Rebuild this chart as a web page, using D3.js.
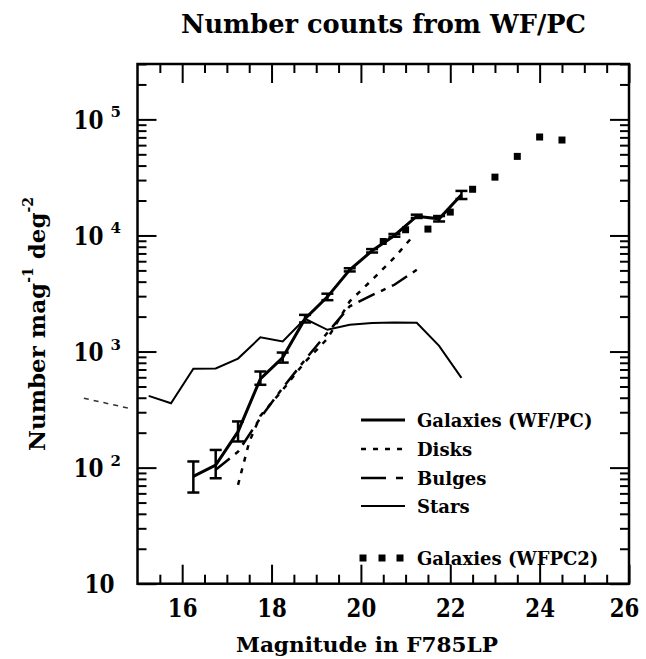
<!DOCTYPE html>
<html>
<head>
<meta charset="utf-8">
<script src="https://cdn.jsdelivr.net/npm/d3@7"></script>
<style>
  body { margin: 0; background: #fff; }
  text { font-family: "DejaVu Serif", serif; font-weight: bold; fill: #000; }
</style>
</head>
<body>
<div id="myPlot"></div>
<script>
//----------------------------------------------------------------------------------------------------
// data (magnitude, number per mag per sq. degree)
var galMag = [16.25, 16.75, 17.25, 17.75, 18.25, 18.75, 19.25, 19.75, 20.25, 20.75, 21.25, 21.75, 22.25];
var galN   = [84, 105, 204, 582, 887, 1920, 2960, 5060, 7380, 10000, 14650, 13900, 22400];
var galLo  = [61, 81, 168, 517, 803, 1780, 2770, 4900, 7130, 9750, 14150, 13200, 20600];
var galHi  = [113, 142, 250, 673, 980, 2070, 3150, 5220, 7630, 10300, 15100, 14700, 24200];

var diskMag = [17.25, 17.5, 17.75, 18.25, 18.75, 19.25, 19.75, 20.25, 20.75, 21.2];
var diskN   = [71, 166, 279, 468, 815, 1290, 2710, 4150, 6460, 10200];

var bulgeMag = [16.75, 17.25, 17.75, 18.25, 18.75, 19.25, 19.75, 20.25, 20.75, 21.25];
var bulgeN   = [96, 137, 268, 487, 849, 1450, 2455, 3060, 3760, 5060];

var starMag = [15.25, 15.75, 16.25, 16.75, 17.25, 17.75, 18.25, 18.75, 19.25, 19.75, 20.25, 20.75, 21.25, 21.75, 22.25];
var starN   = [415, 359, 710, 716, 870, 1325, 1220, 1915, 1540, 1700, 1760, 1780, 1770, 1120, 593];

// faint stretch of the star counts printed left of the frame
var starOutMag = [13.8, 14.8];
var starOutN   = [396, 325];

var wfpc2Mag = [20.5, 21, 21.5, 22, 22.5, 23, 23.5, 24, 24.5];
var wfpc2N   = [8870, 11200, 11350, 15900, 25000, 31800, 48000, 70500, 66400];

var xMajor = [16, 18, 20, 22, 24, 26];
var yMajor = [10, 100, 1000, 10000, 100000];
var yExp   = ["", "2", "3", "4", "5"];

//----------------------------------------------------------------------------------------------------
// set the dimensions and margins of the graph
var margin = { top: 64, right: 17, bottom: 75.3, left: 137.5 },
  width = 646 - margin.left - margin.right,
  height = 659 - margin.top - margin.bottom;

var root = d3.select("#myPlot")
  .append("svg")
  .attr("width", 646)
  .attr("height", 659);

var svg = root.append("g")
  .attr("transform", "translate(" + margin.left + "," + margin.top + ")");

var x = d3.scaleLinear().domain([15, 26]).range([0, width]);
var y = d3.scaleLog().domain([10, 3e5]).range([height, 0]);

// minor ticks
var xMinor = d3.range(15.5, 26, 0.5).filter(function (d) { return xMajor.indexOf(d) < 0; });
var yMinor = [];
yMajor.forEach(function (dec) {
  for (var k = 2; k <= 9; k++) if (k * dec <= 3e5) yMinor.push(k * dec);
});

//----------------------------------------------------------------------------------------------------
// axes, all ticks pointing inwards
function styleAxis(g) {
  g.select(".domain").remove();
  g.selectAll(".tick line").attr("stroke", "#000").attr("stroke-width", 2);
}

svg.append("g").attr("transform", "translate(0," + height + ")")
  .call(d3.axisBottom(x).tickValues(xMinor).tickSize(-9).tickFormat("")).call(styleAxis);
var xAx = svg.append("g").attr("transform", "translate(0," + height + ")")
  .call(d3.axisBottom(x).tickValues(xMajor).tickSize(-19).tickPadding(14).tickFormat(d3.format("d")))
  .call(styleAxis);
// narrow the digits a little to match the plotting font
xAx.selectAll("text")
  .attr("dy", null).attr("y", 0)
  .attr("font-family", "DejaVu Serif").attr("font-size", 26).attr("font-weight", "bold")
  .attr("transform", function (d) { return "translate(" + (d === 26 ? -5 : 0) + ",33.5) scale(0.82,1)"; });
svg.append("g")
  .call(d3.axisTop(x).tickValues(xMinor).tickSize(-9).tickFormat("")).call(styleAxis);
svg.append("g")
  .call(d3.axisTop(x).tickValues(xMajor).tickSize(-19).tickFormat("")).call(styleAxis);

svg.append("g")
  .call(d3.axisLeft(y).tickValues(yMinor).tickSize(-9).tickFormat("")).call(styleAxis);
svg.append("g")
  .call(d3.axisLeft(y).tickValues(yMajor).tickSize(-19).tickFormat("")).call(styleAxis);
svg.append("g").attr("transform", "translate(" + width + ",0)")
  .call(d3.axisRight(y).tickValues(yMinor).tickSize(-9).tickFormat("")).call(styleAxis);
svg.append("g").attr("transform", "translate(" + width + ",0)")
  .call(d3.axisRight(y).tickValues(yMajor).tickSize(-19).tickFormat("")).call(styleAxis);

// y labels "10" with exponents
yMajor.forEach(function (v, i) {
  var right = yExp[i] ? -34 : -23;
  svg.append("text")
    .attr("x", right - 30).attr("y", y(v) + 9.5)
    .attr("textLength", 30).attr("lengthAdjust", "spacingAndGlyphs")
    .style("font-size", "26px")
    .text("10");
  if (yExp[i]) {
    svg.append("text")
      .attr("x", -27).attr("y", y(v) - 2)
      .style("font-size", "15px")
      .text(yExp[i]);
  }
});

// frame
svg.append("rect")
  .attr("width", width).attr("height", height)
  .attr("fill", "none").attr("stroke", "#000").attr("stroke-width", 2.5);

//----------------------------------------------------------------------------------------------------
// lines
function lineOf(mags, vals) {
  return d3.line()
    .x(function (d, i) { return x(mags[i]); })
    .y(function (d, i) { return y(vals[i]); })(vals);
}

svg.append("path").attr("d", lineOf(starMag, starN))
  .attr("fill", "none").attr("stroke", "#000").attr("stroke-width", 2);
svg.append("path").attr("d", lineOf(starOutMag, starOutN))
  .attr("fill", "none").attr("stroke", "#333").attr("stroke-width", 1.5)
  .attr("stroke-dasharray", "5,5");

svg.append("path").attr("d", lineOf(diskMag, diskN))
  .attr("fill", "none").attr("stroke", "#000").attr("stroke-width", 2.5)
  .attr("stroke-dasharray", "5,7");

svg.append("path").attr("d", lineOf(bulgeMag, bulgeN))
  .attr("fill", "none").attr("stroke", "#000").attr("stroke-width", 2.5)
  .attr("stroke-dasharray", "18,7,5,7");

svg.append("path").attr("d", lineOf(galMag, galN))
  .attr("fill", "none").attr("stroke", "#000").attr("stroke-width", 3);

// error bars
var eb = svg.append("g").attr("stroke", "#000").attr("stroke-width", 2.5);
galMag.forEach(function (m, i) {
  eb.append("line").attr("x1", x(m)).attr("x2", x(m)).attr("y1", y(galLo[i])).attr("y2", y(galHi[i]));
  eb.append("line").attr("x1", x(m) - 6).attr("x2", x(m) + 6).attr("y1", y(galLo[i])).attr("y2", y(galLo[i]));
  eb.append("line").attr("x1", x(m) - 6).attr("x2", x(m) + 6).attr("y1", y(galHi[i])).attr("y2", y(galHi[i]));
});

// WFPC2 squares
svg.selectAll(".sq").data(wfpc2N).enter().append("rect")
  .attr("x", function (d, i) { return x(wfpc2Mag[i]) - 3.5; })
  .attr("y", function (d) { return y(d) - 3.5; })
  .attr("width", 7).attr("height", 7).attr("fill", "#000");

//----------------------------------------------------------------------------------------------------
// legend (page pixels)
var leg = root.append("g");
var rows = [
  { t: "Galaxies (WF/PC)", y: 420, w: 3, dash: null },
  { t: "Disks", y: 449, w: 2.5, dash: "5,7" },
  { t: "Bulges", y: 478, w: 2.5, dash: "25,10,7,10" },
  { t: "Stars", y: 506, w: 2, dash: null }
];
rows.forEach(function (r) {
  leg.append("line").attr("x1", 361).attr("x2", 405).attr("y1", r.y).attr("y2", r.y)
    .attr("stroke", "#000").attr("stroke-width", r.w).attr("stroke-dasharray", r.dash);
  leg.append("text").attr("x", 417).attr("y", r.y + 7).style("font-size", "18px").text(r.t);
});
[363, 382, 400].forEach(function (px) {
  leg.append("rect").attr("x", px - 3.5).attr("y", 558 - 3.5).attr("width", 7).attr("height", 7).attr("fill", "#000");
});
leg.append("text").attr("x", 417).attr("y", 565).style("font-size", "18px").text("Galaxies (WFPC2)");

//----------------------------------------------------------------------------------------------------
// titles
root.append("text").attr("x", 181).attr("y", 33)
  .attr("textLength", 405).attr("lengthAdjust", "spacingAndGlyphs")
  .style("font-size", "26px").text("Number counts from WF/PC");

root.append("text").attr("x", 236).attr("y", 652)
  .attr("textLength", 262).attr("lengthAdjust", "spacingAndGlyphs")
  .style("font-size", "21px").text("Magnitude in F785LP");

var yl = root.append("text")
  .attr("transform", "translate(45,324) rotate(-90)")
  .attr("text-anchor", "middle")
  .style("font-size", "23px");
yl.append("tspan").text("Number mag");
yl.append("tspan").attr("dy", -12).style("font-size", "14px").text("-1");
yl.append("tspan").attr("dy", 12).text(" deg");
yl.append("tspan").attr("dy", -12).style("font-size", "14px").text("-2");
</script>
</body>
</html>
